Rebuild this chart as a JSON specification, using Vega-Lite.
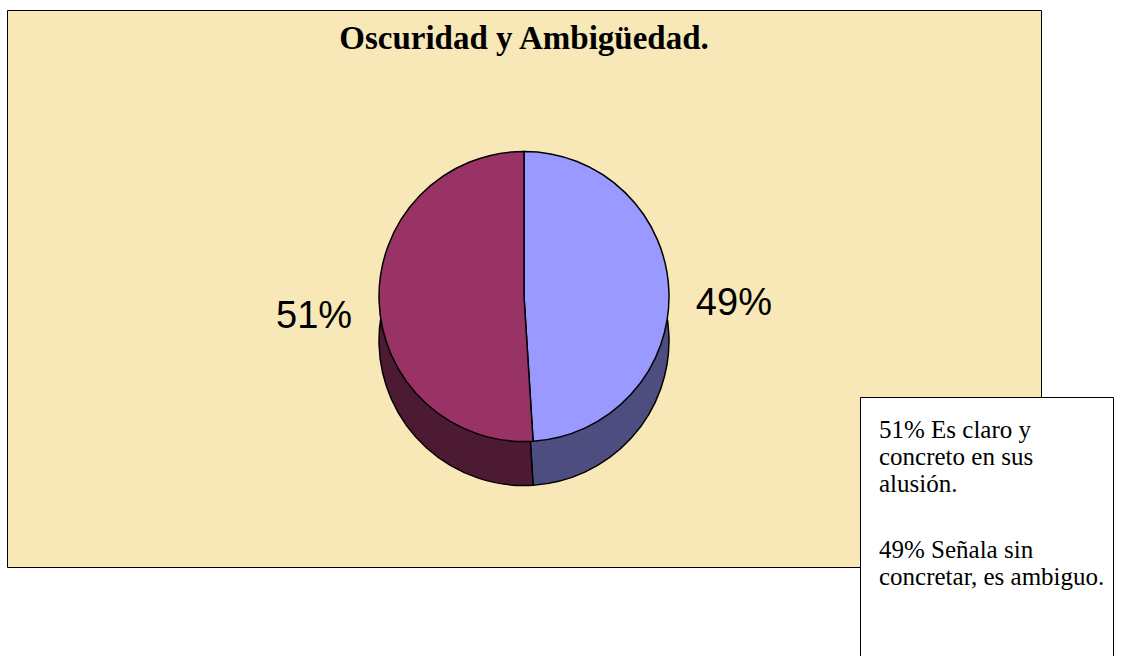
{
  "$schema": "https://vega.github.io/schema/vega-lite/v6.json",
  "width": 1034,
  "height": 557,
  "autosize": {"type": "none"},
  "padding": {"left": 7, "top": 10, "right": 97, "bottom": 89},
  "background": "white",
  "view": {"fill": "#F8E8B8", "stroke": "black", "strokeWidth": 1},
  "title": {
    "text": "Oscuridad y Ambigüedad.",
    "font": "Liberation Serif",
    "fontSize": 33,
    "fontWeight": "bold",
    "color": "black",
    "anchor": "middle",
    "offset": -40,
    "dy": 32,
    "baseline": "alphabetic"
  },
  "data": {
    "values": [
      {"descripcion": "49% Señala sin concretar, es ambiguo.", "porcentaje": 49, "etiqueta": "49%", "orden": 1},
      {"descripcion": "51% Es claro y concreto en sus alusión.", "porcentaje": 51, "etiqueta": "51%", "orden": 2}
    ]
  },
  "layer": [
    {
      "mark": {"type": "arc", "radius": 145, "yOffset": 52, "stroke": "black", "strokeWidth": 1.5},
      "encoding": {
        "theta": {"field": "porcentaje", "type": "quantitative", "stack": true},
        "order": {"field": "orden", "type": "quantitative"},
        "color": {
          "field": "descripcion",
          "type": "nominal",
          "scale": {
            "domain": ["51% Es claro y concreto en sus alusión.", "49% Señala sin concretar, es ambiguo."],
            "range": ["#4D1A33", "#4D4D80"]
          },
          "legend": null
        }
      }
    },
    {
      "mark": {"type": "arc", "radius": 145, "yOffset": 8, "stroke": "black", "strokeWidth": 1.5},
      "encoding": {
        "theta": {"field": "porcentaje", "type": "quantitative", "stack": true},
        "order": {"field": "orden", "type": "quantitative"},
        "color": {
          "field": "descripcion",
          "type": "nominal",
          "scale": {
            "domain": ["51% Es claro y concreto en sus alusión.", "49% Señala sin concretar, es ambiguo."],
            "range": ["#993366", "#9999FF"]
          },
          "legend": {
            "orient": "none",
            "legendX": 853,
            "legendY": 387,
            "title": null,
            "fillColor": "white",
            "strokeColor": "black",
            "padding": 8,
            "labelFont": "Liberation Serif",
            "labelFontSize": 25,
            "labelColor": "black",
            "labelLimit": 400,
            "labelOffset": -14,
            "labelBaseline": "top",
            "symbolSize": 0,
            "symbolOpacity": 0,
            "symbolStrokeWidth": 0,
            "rowPadding": 28,
            "labelExpr": "datum.label == '51% Es claro y concreto en sus alusión.' ? ['51% Es claro y', 'concreto en sus', 'alusión.'] : ['49% Señala sin', 'concretar, es ambiguo.', '', '', '']"
          }
        }
      }
    },
    {
      "mark": {"type": "text", "radius": 210, "yOffset": 22, "font": "Liberation Sans", "fontSize": 38, "color": "black"},
      "encoding": {
        "theta": {"field": "porcentaje", "type": "quantitative", "stack": true},
        "order": {"field": "orden", "type": "quantitative"},
        "text": {"field": "etiqueta", "type": "nominal"}
      }
    }
  ],
  "resolve": {"scale": {"color": "independent"}}
}
